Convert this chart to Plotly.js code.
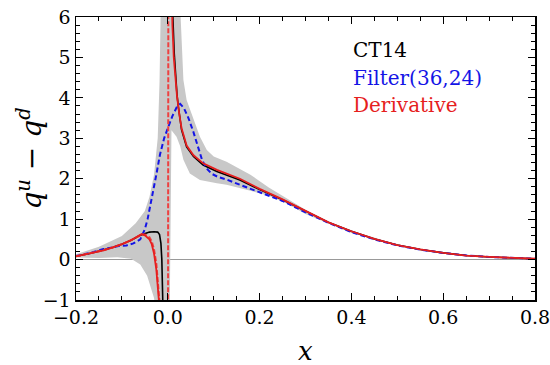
<!DOCTYPE html>
<html>
<head>
<meta charset="utf-8">
<script src="https://cdn.plot.ly/plotly-3.0.1.min.js"></script>
<style>html,body{margin:0;padding:0;background:#fff;}#chart{width:550px;height:365px;}</style>
</head>
<body>
<div id="chart"></div>
<script>
// Gray uncertainty band (CT14)
const bandUpperX = [-0.2, -0.15, -0.1, -0.07, -0.05, -0.04, -0.03, -0.022, -0.018, -0.015, 0.026, 0.034, 0.041, 0.056, 0.07, 0.085, 0.1, 0.128, 0.18, 0.22, 0.26, 0.3, 0.35, 0.4, 0.5, 0.6, 0.7, 0.8];
const bandUpperY = [0.13, 0.32, 0.58, 0.9, 1.2, 1.55, 2.1, 3.0, 4.4, 6.5, 6.5, 4.44, 3.95, 3.45, 3.04, 2.71, 2.55, 2.42, 2.1, 1.78, 1.5, 1.23, 0.95, 0.71, 0.37, 0.175, 0.07, 0.025];
const bandLowerX = [-0.2, -0.15, -0.11, -0.08, -0.06, -0.045, -0.03, -0.024, 0.004, 0.006, 0.008, 0.019, 0.027, 0.034, 0.048, 0.07, 0.107, 0.128, 0.18, 0.22, 0.26, 0.3, 0.35, 0.4, 0.5, 0.6, 0.7, 0.8];
const bandLowerY = [0.05, 0.04, 0.06, 0.02, -0.12, -0.4, -0.95, -1.5, -1.5, 0.5, 3.2, 3.04, 2.8, 2.47, 2.13, 1.97, 1.89, 1.85, 1.7, 1.58, 1.38, 1.13, 0.89, 0.66, 0.34, 0.155, 0.06, 0.015];

// CT14 (black solid), negative and positive branches
const ct14NegX = [-0.2, -0.17, -0.14, -0.12, -0.1, -0.08, -0.06, -0.05, -0.04, -0.03, -0.022, -0.018, -0.015, -0.013, -0.011, -0.010, -0.009];
const ct14NegY = [0.08, 0.15, 0.24, 0.3, 0.38, 0.48, 0.6, 0.65, 0.68, 0.69, 0.68, 0.62, 0.4, 0.0, -0.6, -1.2, -2.0];
const ct14PosX = [0.007, 0.009, 0.011, 0.014, 0.017, 0.020, 0.023, 0.030, 0.041, 0.056, 0.077, 0.107, 0.157, 0.2, 0.25, 0.3, 0.35, 0.4, 0.45, 0.5, 0.55, 0.6, 0.65, 0.7, 0.75, 0.8];
const ct14PosY = [8.0, 6.9, 6.0, 5.1, 4.44, 4.08, 3.78, 3.21, 2.79, 2.55, 2.34, 2.18, 1.97, 1.73, 1.48, 1.2, 0.92, 0.7, 0.51, 0.36, 0.25, 0.165, 0.1, 0.065, 0.035, 0.02];

// Filter(36,24) (blue dashed)
const filterX = [-0.2, -0.17, -0.14, -0.12, -0.104, -0.09, -0.075, -0.06, -0.05, -0.044, -0.035, -0.025, -0.017, -0.008, 0.0, 0.01, 0.02, 0.027, 0.035, 0.045, 0.056, 0.065, 0.075, 0.085, 0.096, 0.11, 0.128, 0.157, 0.2, 0.25, 0.3, 0.35, 0.4, 0.45, 0.5, 0.55, 0.6, 0.65, 0.7, 0.75, 0.8];
const filterY = [0.09, 0.16, 0.26, 0.31, 0.34, 0.35, 0.4, 0.5, 0.75, 1.0, 1.5, 2.1, 2.6, 3.0, 3.25, 3.55, 3.78, 3.85, 3.75, 3.5, 3.15, 2.8, 2.45, 2.25, 2.12, 2.04, 1.98, 1.85, 1.66, 1.45, 1.17, 0.91, 0.68, 0.5, 0.35, 0.245, 0.165, 0.1, 0.065, 0.035, 0.02];

// Derivative (red solid)
const derivNegX = [-0.2, -0.17, -0.14, -0.12, -0.1, -0.08, -0.065, -0.057, -0.05, -0.04, -0.035, -0.03, -0.025, -0.021, -0.018, -0.016];
const derivNegY = [0.08, 0.15, 0.23, 0.3, 0.38, 0.48, 0.58, 0.63, 0.6, 0.5, 0.38, 0.15, -0.25, -0.7, -1.2, -2.0];
const derivPosX = [0.006, 0.008, 0.010, 0.013, 0.016, 0.020, 0.025, 0.030, 0.041, 0.056, 0.077, 0.107, 0.157, 0.2, 0.25, 0.3, 0.35, 0.4, 0.45, 0.5, 0.55, 0.6, 0.65, 0.7, 0.75, 0.8];
const derivPosY = [8.0, 6.6, 5.8, 5.0, 4.5, 4.05, 3.6, 3.25, 2.82, 2.58, 2.38, 2.22, 2.0, 1.75, 1.49, 1.2, 0.92, 0.7, 0.51, 0.36, 0.25, 0.165, 0.1, 0.065, 0.035, 0.02];

// Derivative companion (red dashed)
const dashNegX = [-0.2, -0.17, -0.14, -0.12, -0.1, -0.08, -0.065, -0.057, -0.05, -0.04, -0.035, -0.03, -0.025, -0.02, -0.017];
const dashNegY = [0.08, 0.15, 0.23, 0.3, 0.38, 0.48, 0.58, 0.62, 0.62, 0.55, 0.45, 0.25, -0.1, -0.7, -1.2];
const dashVertX = [0.0005, 0.0012];
const dashVertY = [-1.5, 6.5];

// Legend labels
const labels = ['CT14', 'Filter(36,24)', 'Derivative'];
const labelColors = ['#000000', '#1414e6', '#e61e1e'];

const bandX = bandUpperX.concat(bandLowerX.slice().reverse());
const bandY = bandUpperY.concat(bandLowerY.slice().reverse());

const RED = '#e61e1e', BLUE = '#1414e6';
const traces = [
  {x: bandX, y: bandY, type: 'scatter', mode: 'lines', fill: 'toself', fillcolor: '#c8c8c8', line: {width: 0, color: 'rgba(0,0,0,0)'}, hoverinfo: 'skip'},
  {x: ct14NegX, y: ct14NegY, type: 'scatter', mode: 'lines', line: {color: '#000', width: 1.6}},
  {x: ct14PosX, y: ct14PosY, type: 'scatter', mode: 'lines', line: {color: '#000', width: 1.6}},
  {x: filterX, y: filterY, type: 'scatter', mode: 'lines', line: {color: BLUE, width: 2, dash: '5px,3px'}},
  {x: dashNegX, y: dashNegY, type: 'scatter', mode: 'lines', line: {color: '#ee4040', width: 2, dash: '5px,2px'}},
  {x: dashVertX, y: dashVertY, type: 'scatter', mode: 'lines', line: {color: '#ee4040', width: 2, dash: '5px,2px'}},
  {x: derivNegX, y: derivNegY, type: 'scatter', mode: 'lines', line: {color: RED, width: 1.8}},
  {x: derivPosX, y: derivPosY, type: 'scatter', mode: 'lines', line: {color: RED, width: 1.8}}
];

const SERIF = 'DejaVu Serif';
const tickFont = {family: SERIF, size: 19, color: '#000'};
const annY = [0.885, 0.785, 0.69];
const annotations = labels.map((t, i) => ({
  text: t, xref: 'paper', yref: 'paper', x: 0.6, y: annY[i], xanchor: 'left', yanchor: 'middle',
  showarrow: false, font: {family: SERIF, size: 20, color: labelColors[i]}
}));
annotations.push({
  text: '<i>q</i><sup><i>u</i></sup> − <i>q</i><sup><i>d</i></sup>', xref: 'paper', yref: 'paper',
  x: -0.1, y: 0.5, xanchor: 'center', yanchor: 'middle', textangle: -90, showarrow: false,
  font: {family: SERIF, size: 28, color: '#000'}
});
annotations.push({
  text: '<i>x</i>', xref: 'paper', yref: 'paper', x: 0.5, y: -0.18, xanchor: 'center', yanchor: 'middle',
  showarrow: false, font: {family: SERIF, size: 26, color: '#000'}
});

const layout = {
  width: 550, height: 365,
  margin: {l: 76, r: 15, t: 17, b: 65},
  paper_bgcolor: '#fff', plot_bgcolor: '#fff',
  showlegend: false,
  xaxis: {
    range: [-0.2, 0.8], tick0: 0, dtick: 0.2, ticks: 'inside', ticklen: 7, tickwidth: 1.2, tickcolor: '#000',
    showline: true, linecolor: '#000', linewidth: 1.5, mirror: 'ticks', showgrid: false, zeroline: false,
    tickfont: tickFont, tickformat: '.1f', ticklabeloverflow: 'allow',
    minor: {dtick: 0.05, ticks: 'inside', ticklen: 4, tickwidth: 1, tickcolor: '#000', showgrid: false}
  },
  yaxis: {
    range: [-1, 6], tick0: 0, dtick: 1, ticks: 'inside', ticklen: 7, tickwidth: 1.2, tickcolor: '#000',
    showline: true, linecolor: '#000', linewidth: 1.5, mirror: 'ticks', showgrid: false,
    zeroline: true, zerolinecolor: '#999', zerolinewidth: 1,
    tickfont: tickFont, ticklabeloverflow: 'allow',
    minor: {dtick: 0.2, ticks: 'inside', ticklen: 4, tickwidth: 1, tickcolor: '#000', showgrid: false}
  },
  annotations: annotations
};

Plotly.newPlot('chart', traces, layout, {staticPlot: true, displayModeBar: false});
</script>
</body>
</html>
